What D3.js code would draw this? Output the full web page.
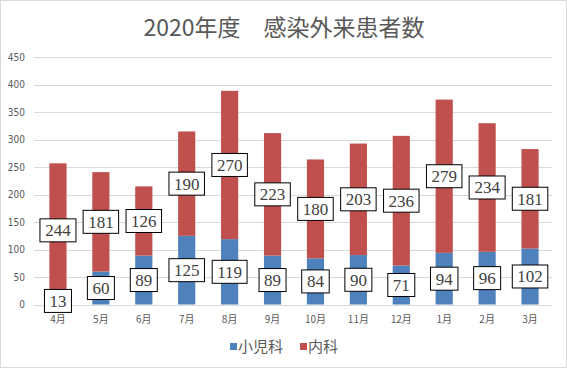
<!DOCTYPE html>
<html><head><meta charset="utf-8">
<script src="https://cdn.jsdelivr.net/npm/d3@7"></script>
<style>body{margin:0;background:#fff}svg{display:block}</style>
</head><body>
<script>
const months = ["4月","5月","6月","7月","8月","9月","10月","11月","12月","1月","2月","3月"];
const pediatrics = [13,60,89,125,119,89,84,90,71,94,96,102];
const internal = [244,181,126,190,270,223,180,203,236,279,234,181];
const seriesNames = ["小児科","内科"];
const colors = ["#4F81BD","#C0504D"];
const yTicks = [0,50,100,150,200,250,300,350,400,450];

const W=567,H=368;
const svg=d3.select("body").append("svg").attr("width",W).attr("height",H);
svg.append("rect").attr("x",0.5).attr("y",0.5).attr("width",W-1).attr("height",H-1).attr("fill","#fff").attr("stroke","#d9d9d9");

const x=d3.scaleBand().domain(months).range([36.5,551.5]).paddingInner(0.6).paddingOuter(0.3);
const y=d3.scaleLinear().domain([0,450]).range([304.5,57.3]);

svg.append("text").attr("x",284).attr("y",36).attr("text-anchor","middle")
  .attr("font-family","Noto Sans CJK JP").attr("font-size",23).attr("fill","#595959")
  .text("2020年度　感染外来患者数");

// grid
svg.append("g").selectAll("line").data(yTicks).join("line")
  .attr("x1",34).attr("x2",552).attr("y1",d=>Math.round(y(d))+0.5).attr("y2",d=>Math.round(y(d))+0.5)
  .attr("stroke","#d9d9d9").attr("stroke-width",1);

const yAxis=svg.append("g").attr("transform","translate(34,0)")
  .call(d3.axisLeft(y).tickValues(yTicks).tickSize(0).tickPadding(9));
yAxis.select(".domain").remove();
yAxis.selectAll("text").attr("font-family","DejaVu Sans Condensed, DejaVu Sans").attr("font-size",10).attr("fill","#595959");

const xAxis=svg.append("g").attr("transform","translate(0,304.5)")
  .call(d3.axisBottom(x).tickSize(0).tickPadding(11));
xAxis.select(".domain").remove();
xAxis.selectAll("text").attr("font-family","Noto Sans CJK JP").attr("font-size",10).attr("fill","#595959");

const stackData=months.map((m,i)=>({m,a:pediatrics[i],b:internal[i]}));
const stack=d3.stack().keys(["a","b"])(stackData);
const layers=svg.append("g").selectAll("g").data(stack).join("g").attr("fill",(d,i)=>colors[i]);
layers.selectAll("rect").data(d=>d).join("rect")
  .attr("x",d=>x(d.data.m)).attr("width",x.bandwidth())
  .attr("y",d=>y(d[1])).attr("height",d=>y(d[0])-y(d[1]));

// labels
const lab=svg.append("g");
stack.forEach(layer=>{
  layer.forEach(d=>{
    const v=d[1]-d[0];
    const cx=x(d.data.m)+x.bandwidth()/2;
    const cy=y((d[0]+d[1])/2);
    const g=lab.append("g").attr("transform",`translate(${cx},${cy})`);
    const t=g.append("text").attr("text-anchor","middle").attr("dy","0.35em")
      .attr("font-family","Liberation Serif").attr("font-size",17).attr("fill","#404040").text(v);
    const bb=t.node().getBBox();
    const w=bb.width+10, h=23;
    g.insert("rect","text").attr("x",-w/2).attr("y",-h/2).attr("width",w).attr("height",h)
      .attr("fill","#fff").attr("stroke","#000").attr("stroke-width",1);
  });
});

// legend
const leg=svg.append("g");
const legX=[230,300];
seriesNames.forEach((n,i)=>{
  leg.append("rect").attr("x",legX[i]).attr("y",343).attr("width",7).attr("height",7).attr("fill",colors[i]);
  leg.append("text").attr("x",legX[i]+8).attr("y",352).attr("font-family","Noto Sans CJK JP")
    .attr("font-size",15).attr("fill","#595959").text(n);
});
</script>
</body></html>
